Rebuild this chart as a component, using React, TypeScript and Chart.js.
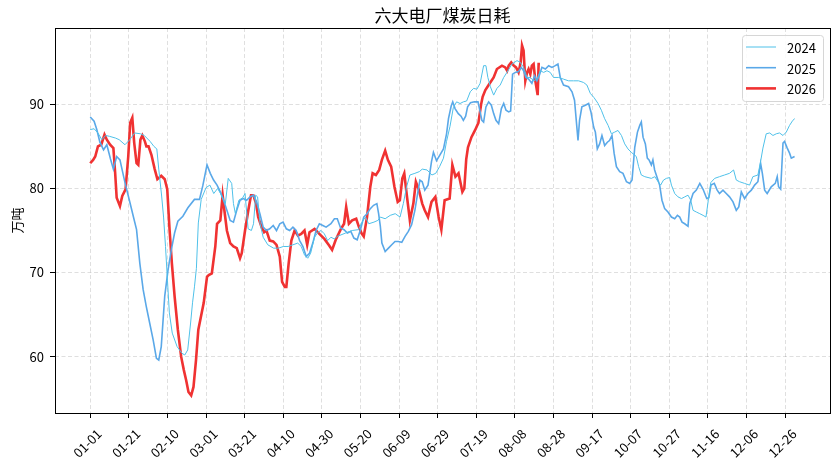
import React, { useEffect, useRef } from 'react';
import { Chart, registerables } from 'chart.js';

Chart.register(...registerables);

const CJK = '"Noto Sans CJK SC", "Noto Sans", sans-serif';

const chartTitle = '六大电厂煤炭日耗';
const yTitle = '万吨';
const tickLabels = [
    '01-01', '01-21', '02-10', '03-01', '03-21', '04-10', '04-30', '05-20', '06-09', '06-29',
    '07-19', '08-08', '08-28', '09-17', '10-07', '10-27', '11-16', '12-06', '12-26',
];
const yTicks = [60, 70, 80, 90];

// [day of year (0 = 01-01), value]
const s2024: [number, number][] = [
    [0, 87.0], [2, 87.1], [4, 86.6], [6, 85.8], [8, 86.3], [10, 86.2], [13, 86.0], [15, 85.8], [18, 85.2],
    [20.5, 85.8], [23, 86.6], [26, 86.5], [28, 86.3], [31, 85.6], [33, 85.0], [34.5, 84.7], [35.5, 82.3],
    [37, 79.1], [38, 76.6], [39, 73.1], [40, 69.1], [41, 65.2], [42.5, 62.8], [45, 61.2], [47.5, 60.4],
    [49, 60.2], [50.5, 60.8], [52, 64.0], [53, 66.4], [54, 68.3], [55, 70.5], [56, 75.9], [57.5, 78.7],
    [60, 80.1], [62, 80.4], [64, 79.4], [66, 80.0], [67.5, 79.4], [69, 78.6], [70, 78.2], [71.5, 81.2],
    [73.3, 80.6], [74.2, 78.2], [75.2, 77.0], [77, 78.6], [79, 78.9], [80.2, 79.4], [81.8, 75.2],
    [83.5, 75.0], [84.6, 75.8], [85.7, 79.2], [86.7, 79.0], [88, 75.8], [89.6, 74.2], [92, 73.3],
    [95, 72.9], [97.5, 72.9], [100, 73.1], [102.5, 73.1], [105, 73.3], [107.5, 73.5], [109.3, 73.1],
    [111, 72.1], [112.7, 71.7], [114.2, 72.3], [116.2, 74.2], [118, 74.8], [119.6, 75.0], [121.3, 74.6],
    [123, 73.8], [124.7, 74.2], [126.4, 74.0], [128, 74.3], [132.3, 74.7], [135.7, 75.0], [139, 75.1],
    [140.8, 76.0], [142.6, 76.6], [144.3, 75.8], [147, 76.0], [149, 76.2], [150.3, 76.6], [152.8, 76.4],
    [155.4, 76.8], [158, 77.0], [160.5, 76.6], [162.2, 78.2], [163.9, 80.2], [165.6, 81.6], [168.2, 81.8],
    [170.5, 82.0], [172, 82.3], [174.5, 82.2], [177, 81.6], [179, 81.8], [181, 82.6], [183, 83.6],
    [184.6, 85.6], [186.4, 87.4], [188.1, 89.6], [189.8, 90.3], [191.6, 90.1], [193.3, 90.3], [195, 90.4],
    [196.9, 91.5], [198.6, 91.9], [200.3, 91.8], [202, 92.5], [203.8, 94.6], [205, 94.6], [206, 93.2],
    [207.3, 92.1], [209, 91.1], [210.7, 91.9], [212.4, 92.3], [214.2, 93.2], [215.9, 93.8], [218.5, 94.8],
    [221.1, 95.2], [222.8, 95.0], [224.5, 94.4], [226.3, 93.2], [228, 93.2], [229.7, 92.8], [231.4, 93.0],
    [233.2, 94.0], [234.9, 93.8], [236.6, 94.0], [238.3, 93.8], [240, 93.2], [242.7, 93.2], [245.2, 93.0],
    [247.8, 92.8], [250.4, 92.8], [253, 92.8], [255.6, 92.6], [257.3, 92.3], [259.1, 91.3], [261, 90.8],
    [263.1, 90.1], [264.8, 89.3], [266.5, 88.3], [268.3, 87.5], [270, 86.5], [271.7, 86.7], [273.4, 86.9],
    [275.2, 86.3], [276.9, 85.3], [278.6, 84.7], [280.3, 84.3], [282.9, 83.8], [284.1, 82.6], [285.5, 81.6],
    [287.3, 81.4], [290.7, 81.2], [292.5, 81.4], [294.2, 80.8], [295.5, 80.4], [297, 81.0], [298.5, 81.2],
    [300.2, 81.3], [301.1, 80.4], [302.8, 79.4], [304.5, 79.0], [306.3, 78.8], [308, 79.0], [309.7, 79.2],
    [311.1, 78.6], [312.3, 77.4], [314, 77.2], [315.8, 77.0], [317.5, 76.8], [319, 76.6], [320.2, 78.6],
    [321.5, 80.7], [323.5, 81.2], [326, 81.4], [328.6, 81.6], [331.2, 81.8], [333.3, 82.2], [334.7, 81.0],
    [336.4, 80.8], [339, 80.6], [341.6, 80.4], [343.3, 81.4], [345.9, 81.6], [347.3, 83.2], [348.5, 84.8],
    [350.2, 86.5], [352, 86.6], [353.7, 86.3], [355.4, 86.5], [357.1, 86.6], [358.9, 86.3], [360.6, 86.7],
    [362.3, 87.5], [364, 88.1], [365, 88.3],
];

const s2025: [number, number][] = [
    [0, 88.5], [2, 88.0], [3.4, 87.0], [5, 85.5], [6.9, 84.6], [8.6, 85.2], [10.5, 83.5], [12, 82.3],
    [13.7, 83.8], [15.4, 83.4], [18, 80.7], [20.6, 78.3], [22.3, 76.7], [24, 75.1], [25.7, 71.1],
    [27.4, 68.0], [29, 66.0], [30.8, 64.0], [32.6, 62.0], [34.3, 59.8], [35.5, 59.6], [36.8, 61.2],
    [38.6, 67.2], [40.3, 70.3], [42, 72.7], [43.7, 74.7], [45.4, 76.1], [48, 76.7], [50.6, 77.7],
    [54, 78.7], [56.6, 78.7], [58.3, 80.3], [60.5, 82.8], [62.2, 81.8], [63.9, 81.0], [65.7, 80.4],
    [67.4, 79.6], [69.1, 78.6], [70.8, 77.4], [72.5, 76.2], [74.2, 76.0], [75.9, 77.4], [77.6, 78.6],
    [79.3, 78.8], [81, 78.6], [82.8, 79.0], [84.5, 79.2], [86.2, 78.4], [87.9, 77.0], [89.6, 75.4],
    [91.3, 75.0], [93, 75.2], [94.8, 75.6], [96.5, 75.0], [98.2, 75.8], [99.9, 76.0], [101.6, 75.2],
    [103.3, 75.0], [105, 75.4], [106.7, 75.0], [108.5, 73.8], [110.2, 73.1], [111.9, 71.9], [113.6, 72.3],
    [115.3, 73.5], [117, 75.0], [118.7, 75.8], [120.5, 75.6], [122.2, 75.4], [124.7, 75.8], [126.5, 76.4],
    [128, 76.4], [129.7, 75.3], [131.5, 75.1], [133.2, 74.7], [135, 74.9], [136.6, 74.1], [138.3, 73.9],
    [140, 75.1], [141.7, 76.6], [143.4, 77.0], [145.1, 77.6], [146.8, 78.0], [148.5, 78.2], [149.4, 77.0],
    [150.3, 75.5], [151.1, 73.5], [152.8, 72.5], [154.5, 72.9], [156.2, 73.3], [157.9, 73.7], [159.6, 73.7],
    [161.4, 73.6], [163.1, 74.3], [164.8, 74.9], [166.5, 75.7], [168.2, 77.4], [169.6, 79.4], [170.8, 81.0],
    [172, 80.8], [173.3, 79.8], [175, 80.4], [176.8, 83.2], [177.8, 84.3], [179.4, 83.3], [181.2, 84.0],
    [183, 84.7], [184.6, 86.5], [185.6, 88.3], [187, 89.8], [187.8, 90.3], [189, 89.5], [190.7, 88.9],
    [192.1, 88.6], [193.3, 88.1], [194.5, 88.6], [195.5, 89.7], [197, 90.2], [199, 90.3], [200.9, 90.3],
    [202, 89.1], [202.9, 88.1], [203.8, 87.9], [205, 89.7], [206.4, 90.3], [207.8, 89.9], [209, 88.9],
    [210.2, 88.1], [211.6, 87.7], [213, 89.5], [214.2, 90.1], [215.4, 89.3], [216.8, 89.1], [217.8, 89.2],
    [218.8, 93.6], [220.2, 93.8], [221.9, 93.9], [223.3, 94.4], [224.5, 94.0], [225.7, 93.2], [227.1, 93.0],
    [228.8, 92.5], [230.2, 93.4], [231.4, 92.8], [232.6, 93.4], [234, 94.4], [235.8, 94.2], [237.5, 94.6],
    [239.2, 94.4], [240.9, 94.6], [242.3, 94.8], [243.5, 93.2], [245.2, 92.3], [247.8, 92.1], [249.6, 91.5],
    [250.9, 90.5], [251.8, 88.1], [252.7, 85.7], [253.5, 88.1], [254.7, 89.7], [256.5, 89.9], [258.2, 90.1],
    [259.4, 89.1], [260.8, 87.3], [261.7, 86.7], [262.7, 84.7], [263.9, 85.3], [265.1, 86.3], [266.5, 85.1],
    [267.9, 85.5], [269, 85.7], [270.3, 86.3], [271.4, 84.2], [272.6, 82.6], [274.3, 82.0], [276, 81.8],
    [277.8, 80.8], [279.5, 80.6], [280.7, 81.0], [282.1, 84.9], [283.5, 86.7], [284.7, 87.5], [285.5, 87.9],
    [286.4, 86.1], [287.6, 85.3], [288.6, 83.6], [289.5, 83.4], [290.7, 82.8], [291.5, 83.4], [292.4, 82.2],
    [293.8, 81.2], [295, 80.4], [296.2, 78.6], [297.6, 77.6], [299.3, 77.2], [301.1, 76.6], [302.8, 76.4],
    [304.2, 76.8], [305.4, 76.6], [306.6, 76.0], [308, 75.8], [309.7, 75.5], [310.6, 78.2], [312.3, 79.4],
    [314, 79.8], [315.8, 80.6], [317.5, 79.9], [319.4, 78.8], [320.5, 78.9], [321.6, 80.4], [323.3, 80.6],
    [324.8, 79.8], [326, 79.4], [327.8, 79.8], [329.5, 79.4], [331.2, 79.0], [333, 78.4], [334.7, 77.4],
    [336, 77.8], [337.3, 79.6], [339, 78.8], [340.7, 79.4], [342.5, 79.8], [344.2, 80.4], [345.9, 80.8],
    [347.3, 83.0], [348.2, 81.8], [349.4, 79.8], [350.7, 79.4], [352.8, 80.2], [354.9, 80.6], [355.9, 81.4],
    [356.6, 80.2], [357.7, 79.9], [358.9, 85.4], [359.7, 85.6], [361.1, 84.8], [362.3, 84.2], [363.2, 83.6],
    [364.9, 83.8],
];

const s2026: [number, number][] = [
    [0, 83.0], [1.5, 83.4], [2.6, 83.8], [4, 85.0], [5.7, 85.2], [7.4, 86.4], [8.6, 85.8], [10.3, 85.2],
    [12, 84.8], [12.9, 81.9], [13.7, 78.9], [15.4, 77.9], [16.6, 79.1], [18.3, 79.9], [19.7, 83.8],
    [20.7, 87.8], [21.8, 88.4], [22.8, 85.4], [24, 83.0], [24.9, 82.8], [26, 85.8], [27, 86.3], [28.3, 85.6],
    [29.1, 85.0], [30.2, 85.0], [31.7, 84.0], [33.4, 82.3], [34.8, 81.1], [36.8, 81.5], [38.6, 81.1],
    [39.9, 79.9], [41.1, 75.1], [42.3, 71.1], [43.7, 67.2], [45.4, 63.2], [47.1, 60.0], [48.5, 58.4],
    [49.7, 57.2], [50.9, 55.8], [52.3, 55.4], [53.5, 56.4], [54.8, 59.6], [56, 63.2], [57.4, 64.8],
    [58.8, 66.4], [60.5, 69.5], [61.4, 69.7], [63, 69.9], [64.8, 73.1], [65.7, 75.8], [67.4, 76.2],
    [68.6, 79.2], [69.6, 77.2], [70.8, 75.0], [72.5, 73.5], [74.2, 73.1], [75.9, 72.9], [77.6, 71.7],
    [78.5, 72.3], [80.2, 75.0], [81.9, 77.4], [83.3, 79.2], [84.5, 79.2], [85.9, 78.2], [87, 76.6],
    [88.8, 75.4], [90.1, 74.8], [91.3, 75.0], [93, 73.8], [94.8, 73.7], [96.5, 73.3], [98.2, 71.9],
    [99.4, 68.9], [100.8, 68.3], [101.6, 68.3], [102.8, 71.1], [104.2, 73.8], [105.9, 75.0], [107.6, 74.4],
    [109.3, 74.6], [111, 75.0], [112.4, 73.3], [113.6, 74.8], [116.2, 75.2], [118.7, 74.6], [121.3, 74.0],
    [123.5, 73.3], [125.3, 72.7], [127.2, 73.9], [129.7, 75.1], [131.5, 75.8], [132.6, 77.8], [134, 75.8],
    [135.7, 76.2], [137.8, 76.4], [139.1, 75.5], [140.5, 74.7], [141.7, 74.3], [143.4, 76.6], [145.1, 80.2],
    [146.3, 81.8], [148, 81.6], [149.7, 82.2], [151.1, 83.4], [152.8, 84.5], [154.2, 83.4], [155.9, 82.6],
    [157.6, 80.2], [159.3, 78.4], [160.4, 78.6], [161.7, 81.2], [162.7, 81.8], [163.9, 79.4], [165.6, 76.2],
    [167.4, 78.2], [168.7, 80.8], [170.3, 79.8], [172, 78.2], [173.3, 77.4], [175, 76.6], [176.8, 78.4],
    [178.8, 79.0], [180.5, 76.6], [181.9, 75.1], [183.6, 78.6], [186.2, 78.8], [187.6, 82.8], [189.2, 81.4],
    [190.8, 81.8], [192.8, 79.6], [193.8, 80.0], [194.8, 83.5], [195.7, 84.9], [197.5, 86.1], [199.3, 86.9],
    [201.1, 87.8], [202.5, 90.0], [203.3, 90.9], [204.7, 91.7], [206.4, 92.3], [209, 93.2], [210.7, 94.2],
    [213.3, 94.6], [215, 94.4], [216, 94.0], [216.8, 94.6], [218.1, 95.0], [219.4, 94.6], [220.6, 94.4],
    [221.9, 93.8], [223, 95.0], [223.7, 97.0], [224.5, 96.4], [225.4, 92.8], [226.3, 93.8], [227.1, 94.2],
    [228, 93.6], [228.8, 94.6], [229.7, 94.8], [230.6, 92.8], [231.8, 91.1], [232.3, 94.8], [233, 94.8],
];

const seriesNames = ['2024', '2025', '2026'];
const seriesColors = ['#4fc1e9', '#5aa8e8', '#f03232'];
const seriesWidths = [1, 1.6, 2.6];

const toPoints = (s: [number, number][]) => s.map(([x, y]) => ({ x, y }));

const decorPlugin = {
    id: 'decor',
    afterDraw(chart: any) {
        const { ctx, chartArea: a } = chart;
        ctx.save();
        // axes frame
        ctx.strokeStyle = '#000';
        ctx.lineWidth = 1;
        ctx.setLineDash([]);
        ctx.strokeRect(Math.round(a.left) + 0.5, Math.round(a.top) + 0.5, Math.round(a.right - a.left), Math.round(a.bottom - a.top));

        // title centred over the plot
        ctx.fillStyle = '#000';
        ctx.font = `17px ${CJK}`;
        ctx.textAlign = 'center';
        ctx.textBaseline = 'middle';
        ctx.fillText(chartTitle, (a.left + a.right) / 2, a.top - 12);

        // legend box, upper right
        const bx = a.right - 88;
        const by = a.top + 7;
        const bw = 81;
        const bh = 66;
        ctx.fillStyle = 'rgba(255,255,255,0.85)';
        ctx.strokeStyle = '#d6d6d6';
        ctx.beginPath();
        ctx.roundRect(bx + 0.5, by + 0.5, bw, bh, 3);
        ctx.fill();
        ctx.stroke();
        ctx.font = `13px ${CJK}`;
        ctx.textAlign = 'left';
        chart.data.datasets.forEach((ds: any, i: number) => {
            const cy = by + 12 + i * 20.7;
            ctx.strokeStyle = ds.borderColor;
            ctx.lineWidth = ds.borderWidth;
            ctx.beginPath();
            ctx.moveTo(bx + 4, cy);
            ctx.lineTo(bx + 34, cy);
            ctx.stroke();
            ctx.fillStyle = '#000';
            ctx.fillText(ds.label, bx + 45, cy + 1);
        });
        ctx.restore();
    },
};

const App: React.FC = () => {
    const canvasRef = useRef<HTMLCanvasElement>(null);
    const chartRef = useRef<Chart | null>(null);

    useEffect(() => {
        document.body.style.margin = '0';
        if (!canvasRef.current) return;
        chartRef.current?.destroy();

        const grid = {
            color: 'rgba(0,0,0,0.16)',
            lineWidth: 0.8,
            drawTicks: true,
            tickLength: 5,
            tickColor: '#000',
            tickWidth: 1,
            tickBorderDash: [],
        };

        chartRef.current = new Chart(canvasRef.current, {
            type: 'line',
            data: {
                datasets: [s2024, s2025, s2026].map((s, i) => ({
                    label: seriesNames[i],
                    data: toPoints(s),
                    borderColor: seriesColors[i],
                    backgroundColor: seriesColors[i],
                    borderWidth: seriesWidths[i],
                    pointRadius: 0,
                    tension: 0,
                    fill: false,
                })),
            },
            options: {
                animation: false,
                responsive: true,
                maintainAspectRatio: false,
                layout: { padding: { top: 28, right: 9, left: 0, bottom: 0 } },
                plugins: {
                    legend: { display: false },
                    title: { display: false },
                    tooltip: { enabled: false },
                },
                scales: {
                    x: {
                        type: 'linear',
                        min: -18.25,
                        max: 383.25,
                        grid,
                        border: { display: false, dash: [4, 2.5] },
                        afterBuildTicks: (axis: any) => {
                            axis.ticks = tickLabels.map((_, i) => ({ value: i * 20 }));
                        },
                        afterFit: (axis: any) => {
                            axis.height = 56;
                        },
                        ticks: {
                            autoSkip: false,
                            maxRotation: 45,
                            minRotation: 45,
                            padding: 8,
                            labelOffset: 9,
                            color: '#000',
                            font: { family: CJK, size: 13 },
                            callback: (v: any) => tickLabels[Math.round(Number(v) / 20)] ?? '',
                        },
                    },
                    y: {
                        min: 53.3,
                        max: 99.08,
                        grid,
                        border: { display: false, dash: [4, 2.5] },
                        afterBuildTicks: (axis: any) => {
                            axis.ticks = yTicks.map((v) => ({ value: v }));
                        },
                        afterFit: (axis: any) => {
                            axis.width = 55;
                        },
                        title: {
                            display: true,
                            text: yTitle,
                            color: '#000',
                            font: { family: CJK, size: 13 },
                            padding: { top: 9, bottom: 0 },
                        },
                        ticks: {
                            padding: 6,
                            color: '#000',
                            font: { family: CJK, size: 13 },
                        },
                    },
                },
            },
            plugins: [decorPlugin],
        });

        return () => {
            chartRef.current?.destroy();
            chartRef.current = null;
        };
    }, []);

    return (
        <div style={{ position: 'relative', width: 839, height: 469, background: '#fff' }}>
            <canvas ref={canvasRef} />
        </div>
    );
};

export default App;
